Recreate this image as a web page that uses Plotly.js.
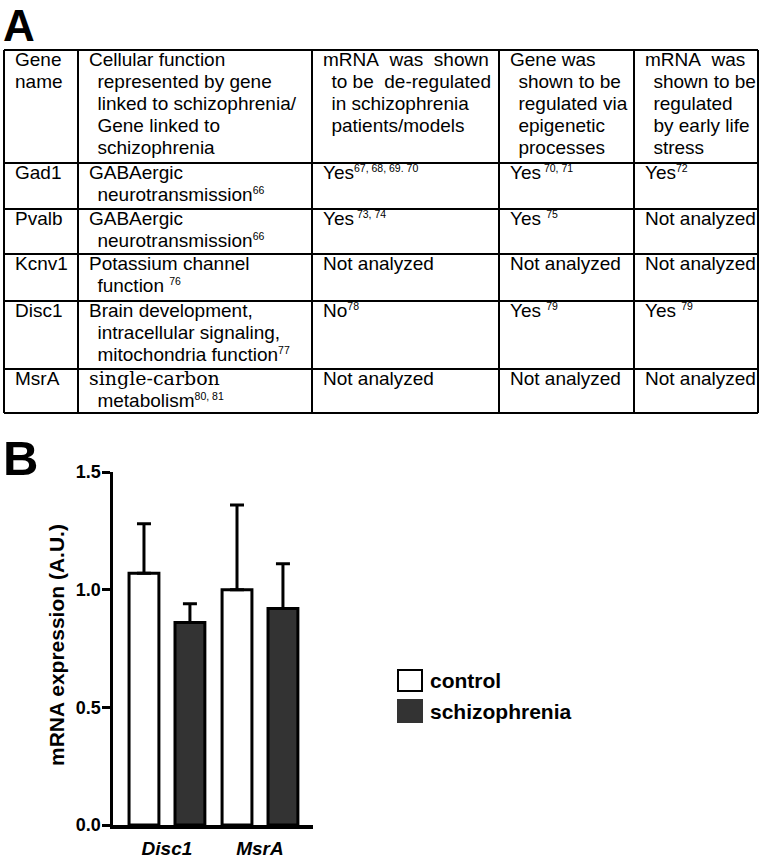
<!DOCTYPE html>
<html><head><meta charset="utf-8">
<script src="https://cdn.plot.ly/plotly-3.0.1.min.js"></script>
<style>html,body{margin:0;padding:0;background:#fff}#chart{width:762px;height:863px}</style>
</head><body><div id="chart"></div>
<script>
// ---------------- DATA: panel A (table) ----------------
const tableHeader = [
  ['Gene', 'name'],
  ['Cellular function', ' represented by gene', ' linked to schizophrenia/', ' Gene linked to', ' schizophrenia'],
  ['mRNA  was  shown', ' to be  de-regulated', ' in schizophrenia', ' patients/models'],
  ['Gene was', ' shown to be', ' regulated via', ' epigenetic', ' processes'],
  ['mRNA  was', ' shown to be', ' regulated', ' by early life', ' stress']
];
const geneNames = ['Gad1', 'Pvalb', 'Kcnv1', 'Disc1', 'MsrA'];
const cellularFunction = [
  ['GABAergic', ' neurotransmission<sup>66</sup>'],
  ['GABAergic', ' neurotransmission<sup>66</sup>'],
  ['Potassium channel', ' function <sup>76</sup>'],
  ['Brain development,', ' intracellular signaling,', ' mitochondria function<sup>77</sup>'],
  ['single-carbon', ' metabolism<sup>80, 81</sup>']
];
const mrnaDeregulated = ['Yes<sup>67, 68, 69. 70</sup>', 'Yes<sup> 73, 74</sup>', 'Not analyzed', 'No<sup>78</sup>', 'Not analyzed'];
const epigeneticRegulation = ['Yes<sup> 70, 71</sup>', 'Yes <sup>75</sup>', 'Not analyzed', 'Yes <sup>79</sup>', 'Not analyzed'];
const earlyLifeStress = ['Yes<sup>72</sup>', 'Not analyzed', 'Not analyzed', 'Yes <sup>79</sup>', 'Not analyzed'];
const serifPhrases = ['single-carbon'];

// ---------------- DATA: panel B (bar chart) ----------------
const genes = ['Disc1', 'MsrA'];
const seriesNames = ['control', 'schizophrenia'];
const controlMean = [1.07, 1.0];
const controlSEM = [0.21, 0.36];
const schizMean = [0.86, 0.92];
const schizSEM = [0.08, 0.19];
const yTicks = [0, 0.5, 1.0, 1.5];
const yTitle = 'mRNA expression (A.U.)';

// ---------------- LAYOUT GEOMETRY (pixels) ----------------
const W = 762, H = 863;
const px = v => v / W;
const py = v => 1 - v / H;
const colEdges = [4, 78, 312, 499, 634, 758];
const rowEdges = [50, 163, 209, 254, 301, 369, 413];
const cellPadX = 9.5, firstBaseline = 17, lineStep = 22;
const FS = 19, DESC = 0.212;
const IND = '\u00a0\u2006';
const FONT = 'Liberation Sans, Arial, sans-serif';
const DARK = '#333333';

function lineHTML(l) {
  let s = l.replace(/^ /, IND).replace(/  /g, '\u00a0 ');
  // superscript: small raised text (baseline-shift keeps the line box intact)
  s = s.replace(/<sup>(.*?)<\/sup>/g,
    (m, t) => '<span style="font-size:10.5px;baseline-shift:7px">' + t.replace(/^ /, '\u00a0') + '</span>');
  serifPhrases.forEach(p => {
    s = s.split(p).join('<span style="font-family:DejaVu Serif, serif;font-size:19px">' + p + '</span>');
  });
  return s;
}

const annotations = [];
const shapes = [];

// table rows: header + body
const bodyCols = [geneNames, cellularFunction, mrnaDeregulated, epigeneticRegulation, earlyLifeStress];
const rows = [tableHeader];
geneNames.forEach((g, r) => rows.push(bodyCols.map(col => col[r])));

rows.forEach((row, r) => {
  row.forEach((cell, c) => {
    const lines = Array.isArray(cell) ? cell : [cell];
    lines.forEach((l, k) => {
      const baseline = rowEdges[r] + firstBaseline + k * lineStep;
      annotations.push({
        xref: 'paper', yref: 'paper',
        x: px(colEdges[c] + cellPadX), y: py(baseline + DESC * FS),
        xanchor: 'left', yanchor: 'bottom', align: 'left',
        showarrow: false, borderpad: 0,
        text: lineHTML(l),
        font: {family: FONT, size: FS, color: '#000'}
      });
    });
  });
});

// table grid lines
const lineStyle = {color: '#000', width: 2};
rowEdges.forEach(yv => shapes.push({type: 'line', xref: 'paper', yref: 'paper',
  x0: px(colEdges[0]), x1: px(colEdges[colEdges.length - 1]), y0: py(yv), y1: py(yv), line: lineStyle}));
colEdges.forEach(xv => shapes.push({type: 'line', xref: 'paper', yref: 'paper',
  x0: px(xv), x1: px(xv), y0: py(rowEdges[0]), y1: py(rowEdges[rowEdges.length - 1]), line: lineStyle}));

// panel letters
annotations.push({xref: 'paper', yref: 'paper', x: px(2), y: 1, xanchor: 'left', yanchor: 'top', borderpad: 0,
  showarrow: false, text: 'A', font: {family: FONT, size: 44, weight: 'bold', color: '#000'}});
annotations.push({xref: 'paper', yref: 'paper', x: px(2), y: py(458), xanchor: 'left', yanchor: 'middle', borderpad: 0,
  showarrow: false, text: 'B', font: {family: FONT, size: 49, weight: 'bold', color: '#000'}});

// y-axis title
annotations.push({xref: 'paper', yref: 'paper', x: px(56), y: py(645), xanchor: 'center', yanchor: 'middle',
  textangle: -90, showarrow: false, text: yTitle, borderpad: 0,
  font: {family: FONT, size: 21, weight: 'bold', color: '#000'}});

// custom legend (large boxes as in the original figure)
const legendFills = ['#ffffff', DARK];
const legendBoxes = [[670, 691], [700, 722]];
seriesNames.forEach((name, i) => {
  shapes.push({type: 'rect', xref: 'paper', yref: 'paper',
    x0: px(398), x1: px(422), y0: py(legendBoxes[i][0]), y1: py(legendBoxes[i][1]),
    fillcolor: legendFills[i], line: {color: i === 0 ? '#000' : DARK, width: 2}});
  annotations.push({xref: 'paper', yref: 'paper', x: px(428),
    y: py((legendBoxes[i][0] + legendBoxes[i][1]) / 2), xanchor: 'left', yanchor: 'middle',
    showarrow: false, text: name, font: {family: FONT, size: 21, weight: 'bold', color: '#000'}});
});

// bar chart
const bargap = 0.012, bargroupgap = 0.35;
const xRange = [-0.58, 1.57];
const off = (1 - bargap) / 4;
const barTickVals = [];
genes.forEach((g, i) => { barTickVals.push(i - off, i + off); });

const traces = [
  {type: 'bar', name: seriesNames[0], x: genes, y: controlMean,
   marker: {color: '#ffffff', line: {color: '#000', width: 3}},
   error_y: {type: 'data', symmetric: false, array: controlSEM, arrayminus: controlSEM.map(() => 0),
     color: '#000', thickness: 3, width: 7},
   showlegend: false, hoverinfo: 'skip'},
  {type: 'bar', name: seriesNames[1], x: genes, y: schizMean,
   marker: {color: DARK, line: {color: '#000', width: 3}},
   error_y: {type: 'data', symmetric: false, array: schizSEM, arrayminus: schizSEM.map(() => 0),
     color: '#000', thickness: 3, width: 7},
   showlegend: false, hoverinfo: 'skip'}
];

const layout = {
  width: W, height: H,
  margin: {l: 0, r: 0, t: 0, b: 0},
  paper_bgcolor: '#fff', plot_bgcolor: 'rgba(0,0,0,0)',
  font: {family: FONT, color: '#000'},
  showlegend: false,
  barmode: 'group', bargap: bargap, bargroupgap: bargroupgap,
  xaxis: {
    domain: [px(113), px(313)], anchor: 'y', type: 'category', range: xRange,
    showline: true, linecolor: '#000', linewidth: 3.5,
    ticks: 'outside', ticklen: 4, tickcolor: 'rgba(0,0,0,0)',
    tickfont: {family: FONT, size: 19, weight: 'bold', style: 'italic', color: '#000'},
    showgrid: false, zeroline: false, fixedrange: true
  },
  xaxis3: {
    overlaying: 'x', anchor: 'y', side: 'bottom', type: 'linear', range: xRange,
    tickmode: 'array', tickvals: barTickVals, showticklabels: false,
    ticks: 'outside', ticklen: 9, tickwidth: 3, tickcolor: '#000',
    showline: false, showgrid: false, zeroline: false, fixedrange: true
  },
  yaxis: {
    domain: [py(825), py(472)], anchor: 'x', range: [0, 1.5],
    tickmode: 'array', tickvals: yTicks, tickformat: '.1f',
    showline: true, linecolor: '#000', linewidth: 3.5,
    ticks: 'outside', ticklen: 8, tickwidth: 3, tickcolor: '#000', ticklabelstandoff: -3,
    tickfont: {family: FONT, size: 18, weight: 'bold', color: '#000'},
    showgrid: false, zeroline: false, fixedrange: true
  },
  shapes: shapes,
  annotations: annotations
};

Plotly.newPlot('chart', traces, layout, {displayModeBar: false, staticPlot: true});
</script>
</body></html>
